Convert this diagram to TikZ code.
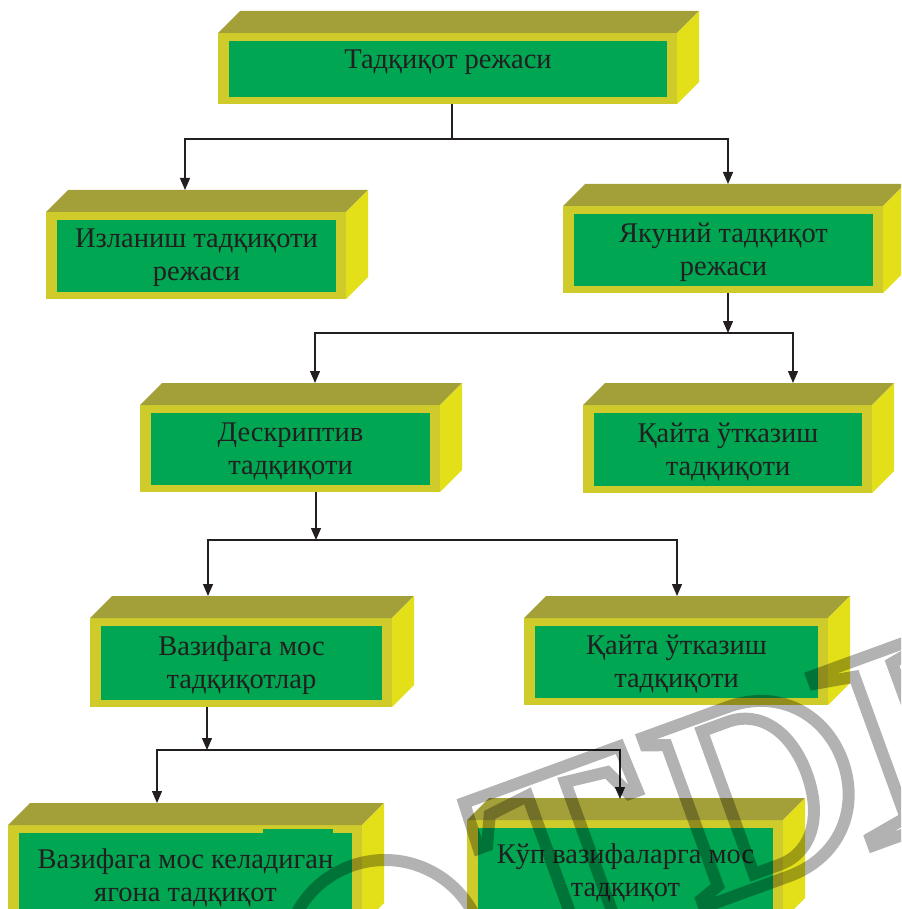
\documentclass[tikz,border=0pt]{standalone}
\usepackage{fontspec}
\setmainfont{Liberation Serif}
\usetikzlibrary{calc,arrows.meta,fit}

\definecolor{topc}{HTML}{A3A03A}
\definecolor{frontc}{HTML}{CFCB2A}
\definecolor{sidec}{HTML}{E3E01A}
\definecolor{greenc}{HTML}{00A651}
\definecolor{inkc}{HTML}{231F20}

\tikzset{
  frontface/.style={fill=frontc, draw=none, inner sep=0pt, outer sep=0pt},
  topface/.style={fill=topc},
  sideface/.style={fill=sidec},
  greenface/.style={fill=greenc},
  caption/.style={text=inkc, align=center, inner sep=0pt,
    font=\fontsize{28.5}{33}\selectfont},
  link/.style={draw=inkc, line width=1.3pt},
  arr/.style={link, -{Triangle[length=12pt,width=10pt]}},
  wmline/.style={draw=black, draw opacity=0.3, line width=12pt, line join=miter},
}

\newcommand\prismdepth{22}
% #1 caption shift, #2 name, #3-#6 front face (left, top, right, bottom), #7 caption
\newcommand\prism[7][-2pt]{%
  \node[frontface, fit={(#3,#4) (#5,#6)}] (#2) {};
  \fill[topface] (#2.north west) -- ++(\prismdepth,-\prismdepth)
    -- ($(#2.north east)+(\prismdepth,-\prismdepth)$) -- (#2.north east) -- cycle;
  \fill[sideface] (#2.north east) -- ++(\prismdepth,-\prismdepth)
    -- ($(#2.south east)+(\prismdepth,-\prismdepth)$) -- (#2.south east) -- cycle;
  \fill[greenface] ($(#2.north west)+(11,8)$) rectangle ($(#2.south east)+(-10,-7)$);
  \node[caption, yshift=#1] (#2-t) at ($(#2.center)+(0.5,0.5)$) {#7};
}

\begin{document}
\begin{tikzpicture}[x=1pt, y=-1pt]
  \useasboundingbox (0,0) rectangle (901,909);
  \clip (0,0) rectangle (901,909);

  % boxes
  \prism[7pt]{b1}{218}{33}{677}{104}{Тадқиқот режаси}
  \prism{b2}{46}{212}{346}{299}{Изланиш тадқиқоти\\режаси}
  \prism{b3}{563}{206}{883}{293}{Якуний тадқиқот\\режаси}
  \prism{b4}{140}{405}{440}{492}{Дескриптив\\тадқиқоти}
  \prism{b5}{583}{405}{872}{493}{Қайта ўтказиш\\тадқиқоти}
  \prism{b6}{90}{618}{392}{707}{Вазифага мос\\тадқиқотлар}
  \prism{b7}{524}{618}{828}{705}{Қайта ўтказиш\\тадқиқоти}
  \prism{b8}{467}{820}{783}{920}{Кўп вазифаларга мос\\тадқиқот}
  \prism{b9}{8}{825}{362}{925}{Вазифага мос келадиган\\ягона тадқиқот}
  \fill[greenface] (263,829) rectangle (333,834);

  % junction points and arrow targets
  \coordinate (j1) at (452,139);
  \coordinate (t2) at (185,190);
  \coordinate (t3) at (728,184);
  \coordinate (j2) at (728,333);
  \coordinate (t4) at (315,383);
  \coordinate (t5) at (793,383);
  \coordinate (j3) at (316,540);
  \coordinate (t6) at (208,596);
  \coordinate (t7) at (677,596);
  \coordinate (j4) at (207,750);
  \coordinate (t9) at (157,803);
  \coordinate (t8) at (620,799);

  % connectors
  \draw[link] (b1.south -| j1) -- (j1);
  \draw[arr] (j1) -| (t2);
  \draw[arr] (j1) -| (t3);

  \draw[arr] (b3.south -| j2) -- (j2);
  \draw[arr] (j2) -| (t4);
  \draw[arr] (j2) -| (t5);

  \draw[arr] (b4.south -| j3) -- (j3);
  \draw[arr] (j3) -| (t6);
  \draw[arr] (j3) -| (t7);

  \draw[arr] (b6.south -| j4) -- (j4);
  \draw[arr] (j4) -| (t9);
  \draw[arr] (j4) -| (t8);

  % outlined watermark lettering
  \draw[wmline] (385,960) ++(205:100) arc[start angle=205, end angle=340, radius=100];
  \begin{scope}[shift={(450,808)}, rotate=20]
    % T
    \draw[wmline] (15,0) -- (180,0) -- (182,48) -- (173,48) -- (160,20) -- (117,15)
      -- (117,165) -- (137,175) -- (137,180) -- (57,180) -- (57,175) -- (77,165)
      -- (77,15) -- (35,20) -- (22,48) -- (13,48) -- cycle;
    % D
    \draw[wmline] (205,0) -- (295,0) .. controls (350,0) and (385,40) .. (385,90)
      .. controls (385,140) and (350,180) .. (295,180) -- (205,180) -- (205,172)
      -- (225,165) -- (225,15) -- (205,8) -- cycle;
    \draw[wmline] (263,14) -- (290,14) .. controls (325,14) and (347,45) .. (347,90)
      .. controls (347,135) and (325,166) .. (290,166) -- (263,166) -- cycle;
    % I
    \draw[wmline] (385,0) -- (505,0) -- (505,8) -- (465,15) -- (465,165) -- (505,172)
      -- (505,180) -- (385,180) -- (385,172) -- (425,165) -- (425,15) -- (385,8) -- cycle;
  \end{scope}
\end{tikzpicture}
\end{document}
